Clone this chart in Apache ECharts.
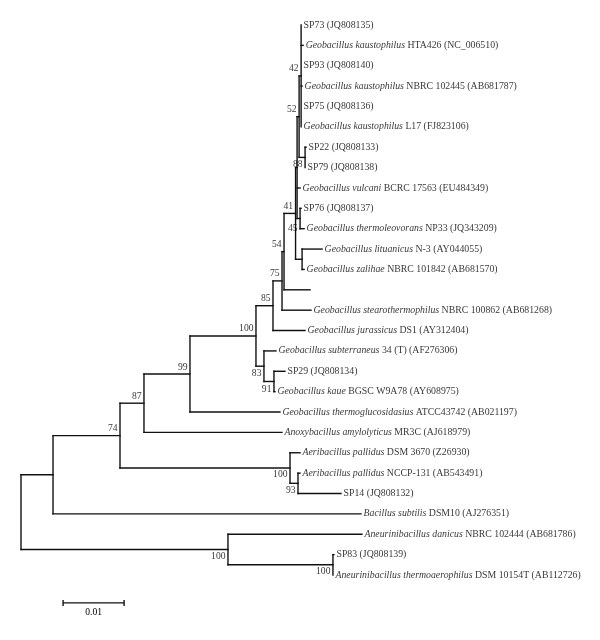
<!DOCTYPE html>
<html><head><meta charset="utf-8">
<script src="https://cdn.jsdelivr.net/npm/echarts@6/dist/echarts.min.js"></script>
<style>html,body{margin:0;padding:0;background:#fff}#c{width:600px;height:640px}</style>
</head><body><div id="c"></div>
<script>
// ---------------- data ----------------
// leaves, top to bottom
const leafItalic = ['', 'Geobacillus kaustophilus', '', 'Geobacillus kaustophilus', '', 'Geobacillus kaustophilus', '', '', 'Geobacillus vulcani', '', 'Geobacillus thermoleovorans', 'Geobacillus lituanicus', 'Geobacillus zalihae', '', 'Geobacillus stearothermophilus', 'Geobacillus jurassicus', 'Geobacillus subterraneus', '', 'Geobacillus kaue', 'Geobacillus thermoglucosidasius', 'Anoxybacillus amylolyticus', 'Aeribacillus pallidus', 'Aeribacillus pallidus', '', 'Bacillus subtilis', 'Aneurinibacillus danicus', '', 'Aneurinibacillus thermoaerophilus'];
const leafPlain = ['SP73 (JQ808135)', 'HTA426 (NC_006510)', 'SP93 (JQ808140)', 'NBRC 102445 (AB681787)', 'SP75 (JQ808136)', 'L17 (FJ823106)', 'SP22 (JQ808133)', 'SP79 (JQ808138)', 'BCRC 17563 (EU484349)', 'SP76 (JQ808137)', 'NP33 (JQ343209)', 'N-3 (AY044055)', 'NBRC 101842 (AB681570)', '', 'NBRC 100862 (AB681268)', 'DS1 (AY312404)', '34 (T) (AF276306)', 'SP29 (JQ808134)', 'BGSC W9A78 (AY608975)', 'ATCC43742 (AB021197)', 'MR3C (AJ618979)', 'DSM 3670 (Z26930)', 'NCCP-131 (AB543491)', 'SP14 (JQ808132)', 'DSM10 (AJ276351)', 'NBRC 102444 (AB681786)', 'SP83 (JQ808139)', 'DSM 10154T (AB112726)'];
const leafParent = ['W42','W42','W42','W42','W42','W42','P88','P88','T','Q','Q','N','N','L','K','H','I','J','J','F','E','C','D','D','A','Z','Y','Y'];
const leafBranch = [0, 0.00033, 0, 0.00016, 0, 0, 0.00016, 0, 0.00049, 0.00016, 0.00066, 0.00328, 0.00033, 0.00426, 0.00475, 0.00525, 0.00197, 0.0018, 0.00016, 0.01475, 0.02262, 0.00164, 0.00033, 0.00705, 0.05049, 0.02197, 0.00016, 0];
// internal nodes
const nodeIds     = ['root','A','Z','B','E','C','F','G','H','I','K','L','U','T','W52','W42','P88','Q','N','J','D','Y'];
const nodeParent  = [null,'root','root','A','B','B','E','F','G','G','H','K','L','U','T','W52','W52','T','U','I','C','Z'];
const nodeBranch  = [0, 0.00525, 0.03393, 0.01098, 0.00393, 0.02787, 0.00754, 0.01082, 0.00279, 0.00131, 0.00148, 0.00033, 0.00189, 0.00025, 0.00033, 0.00033, 0.00098, 0.00049, 0.00107, 0.00164, 0.00131, 0.01721];
const nodeSupport = [null, null, 100, 74, 87, 100, 99, 100, 85, 83, 75, 54, 41, null, 52, 42, 88, 45, null, 91, 93, 100];
const scaleBarLength = 0.01;
const scaleBarLabel = '0.01';

// ---------------- layout config (not data) ----------------
const supportBelow = {Z: 7, C: 6, D: 7, Y: 7, I: 7, J: 8, P88: 7, Q: 10};
const FONT = '"Liberation Serif", "Times New Roman", serif';
const INK = '#000';
const LEAF_FS = 9.8;

// ---------------- tree layout ----------------
const depth = {}, children = {};
nodeIds.forEach(id => children[id] = []);
function nodeDepth(id) {
  if (depth[id] !== undefined) return depth[id];
  const i = nodeIds.indexOf(id);
  const p = nodeParent[i];
  depth[id] = p === null ? 0 : nodeDepth(p) + nodeBranch[i];
  return depth[id];
}
nodeIds.forEach((id, i) => { nodeDepth(id); if (nodeParent[i] !== null) children[nodeParent[i]].push({type: 'node', id}); });
leafParent.forEach((p, i) => children[p].push({type: 'leaf', i}));
const leafX = leafParent.map((p, i) => depth[p] + leafBranch[i]);
const nodeY = {};
function yOf(c) { return c.type === 'leaf' ? c.i : computeY(c.id); }
function computeY(id) {
  if (nodeY[id] !== undefined) return nodeY[id];
  const ys = children[id].map(yOf);
  nodeY[id] = (Math.min(...ys) + Math.max(...ys)) / 2;
  return nodeY[id];
}
computeY('root');

const segs = [];
nodeIds.forEach((id, i) => {
  const ys = children[id].map(yOf);
  segs.push([depth[id], Math.min(...ys), depth[id], Math.max(...ys)]);
  if (nodeParent[i] !== null) segs.push([depth[nodeParent[i]], nodeY[id], depth[id], nodeY[id]]);
});
leafParent.forEach((p, i) => { if (leafBranch[i] > 0) segs.push([depth[p], i, leafX[i], i]); });

const leafData = leafPlain.map((t, i) => ({
  value: [leafX[i], i],
  txt: (leafItalic[i] ? '{i|' + leafItalic[i] + '} ' : '') + (t ? '{n|' + t + '}' : '')
}));
const supportData = [];
nodeIds.forEach((id, i) => {
  if (nodeSupport[i] === null) return;
  const dy = supportBelow[id] !== undefined ? supportBelow[id] : -7;
  supportData.push({value: [depth[id], nodeY[id]], txt: String(nodeSupport[i]),
    label: {offset: [0, dy]}});
});

// axis ranges chosen so that the layout fills the frame
const pxPerUnit = 6100, rootPx = 21, rowPx = 20.37, firstRowPx = 25;
const xMin = -rootPx / pxPerUnit, xMax = (600 - rootPx) / pxPerUnit;
const yMin = -firstRowPx / rowPx, yMax = (640 - firstRowPx) / rowPx;
const scaleStart = 0.0069, scaleRow = leafPlain.length + 0.37;

const chart = echarts.init(document.getElementById('c'), null, {renderer: 'canvas'});
chart.setOption({
  animation: false,
  backgroundColor: '#fff',
  grid: {left: 0, right: 0, top: 0, bottom: 0},
  xAxis: {type: 'value', min: xMin, max: xMax, show: false},
  yAxis: {type: 'value', min: yMin, max: yMax, inverse: true, show: false},
  series: [
    {
      type: 'custom', data: segs, encode: {x: [0, 2], y: [1, 3]}, silent: true,
      renderItem: (params, api) => {
        const a = api.coord([api.value(0), api.value(1)]);
        const b = api.coord([api.value(2), api.value(3)]);
        return {type: 'line', shape: {x1: a[0], y1: a[1], x2: b[0], y2: b[1]},
          style: {stroke: '#111', lineWidth: 1.4, lineCap: 'square'}};
      }
    },
    {
      type: 'scatter', data: leafData, symbolSize: 1, itemStyle: {color: 'rgba(0,0,0,0)'}, silent: true,
      label: {show: true, position: 'right', distance: 2, formatter: p => p.data.txt,
        fontFamily: FONT, fontSize: LEAF_FS, color: INK,
        rich: {i: {fontStyle: 'italic', fontFamily: FONT, fontSize: LEAF_FS, color: INK},
               n: {fontFamily: FONT, fontSize: LEAF_FS, color: INK}}}
    },
    {
      type: 'scatter', data: supportData, symbolSize: 1, itemStyle: {color: 'rgba(0,0,0,0)'}, silent: true,
      label: {show: true, position: 'left', distance: 2, formatter: p => p.data.txt,
        fontFamily: FONT, fontSize: 9.6, color: INK}
    },
    {
      type: 'custom', data: [[scaleStart, scaleRow, scaleStart + scaleBarLength]], silent: true,
      encode: {x: [0, 2], y: 1},
      renderItem: (params, api) => {
        const a = api.coord([api.value(0), api.value(1)]);
        const b = api.coord([api.value(2), api.value(1)]);
        const st = {stroke: '#111', lineWidth: 1.4};
        return {type: 'group', children: [
          {type: 'line', shape: {x1: a[0], y1: a[1], x2: b[0], y2: b[1]}, style: st},
          {type: 'line', shape: {x1: a[0], y1: a[1] - 3, x2: a[0], y2: a[1] + 3}, style: st},
          {type: 'line', shape: {x1: b[0], y1: b[1] - 3, x2: b[0], y2: b[1] + 3}, style: st},
          {type: 'text', style: {text: scaleBarLabel, x: (a[0] + b[0]) / 2, y: a[1] + 10,
            textAlign: 'center', textVerticalAlign: 'middle', font: '9.6px ' + FONT, fill: INK}}
        ]};
      }
    }
  ]
});
</script></body></html>
